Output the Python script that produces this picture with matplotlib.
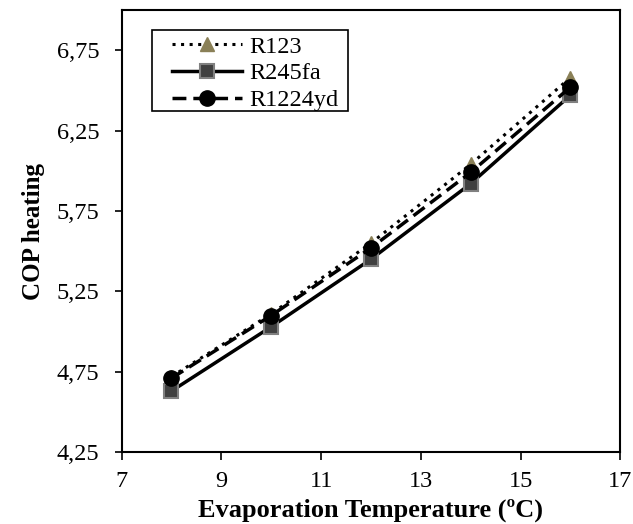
import matplotlib
matplotlib.use("Agg")
from matplotlib import pyplot as plt
from matplotlib.patches import Rectangle

plt.rcParams['font.family'] = ['Liberation Serif', 'DejaVu Serif']

temps = [8, 10, 12, 14, 16]
cop_r123 = [4.72, 5.11, 5.55, 6.04, 6.58]
cop_r245fa = [4.63, 5.03, 5.45, 5.92, 6.47]
cop_r1224yd = [4.71, 5.10, 5.52, 5.99, 6.52]

xticks = [7, 9, 11, 13, 15, 17]
yticks = [4.25, 4.75, 5.25, 5.75, 6.25, 6.75]
ytick_labels = ['4,25', '4,75', '5,25', '5,75', '6,25', '6,75']

fig = plt.figure(figsize=(6.33, 5.24), dpi=100)
ax = fig.add_axes([0.192, 0.137, 0.788, 0.844])

ax.plot(temps, cop_r123, linestyle=(0, (1, 1.8)), color='black', lw=2.2,
        marker='^', ms=10, mfc='#8a8057', mec='#8a8057', label='R123')
ax.plot(temps, cop_r245fa, linestyle='-', color='black', lw=2.5,
        marker='s', ms=10, mfc='#404040', mec='#808080', mew=1.5, label='R245fa')
ax.plot(temps, cop_r1224yd, linestyle=(0, (4, 2)), color='black', lw=2.5,
        marker='o', ms=11, mfc='black', mec='black', label='R1224yd')

ax.set_xlim(7, 17)
ax.set_ylim(4.25, 7.0)
ax.set_xticks(xticks)
ax.set_yticks(yticks)
ax.set_yticklabels(ytick_labels)
ax.tick_params(axis='both', direction='out', width=1.2,
               labelsize=17.5, colors='black')
ax.tick_params(axis='y', length=5, pad=11)
ax.tick_params(axis='x', length=5.5, pad=8)
for s in ax.spines.values():
    s.set_linewidth(1.5)

ax.set_xlabel('Evaporation Temperature (ºC)', fontsize=19, fontweight='bold',
              labelpad=5)
ax.set_ylabel('COP heating', fontsize=18, fontweight='bold', labelpad=8)

# legend box drawn separately (Excel style inset)
ax.add_patch(Rectangle((0.062, 0.771), 0.393, 0.184, transform=ax.transAxes,
                       fill=True, facecolor='white', edgecolor='black',
                       lw=1.2, zorder=4))
leg = ax.legend(loc='upper left', bbox_to_anchor=(0.102, 0.942), fontsize=17.5,
                handlelength=2.85, handletextpad=0.33, borderpad=0,
                labelspacing=0.2, frameon=False, borderaxespad=0)
leg.set_zorder(5)

fig.savefig('out.png', dpi=100)
